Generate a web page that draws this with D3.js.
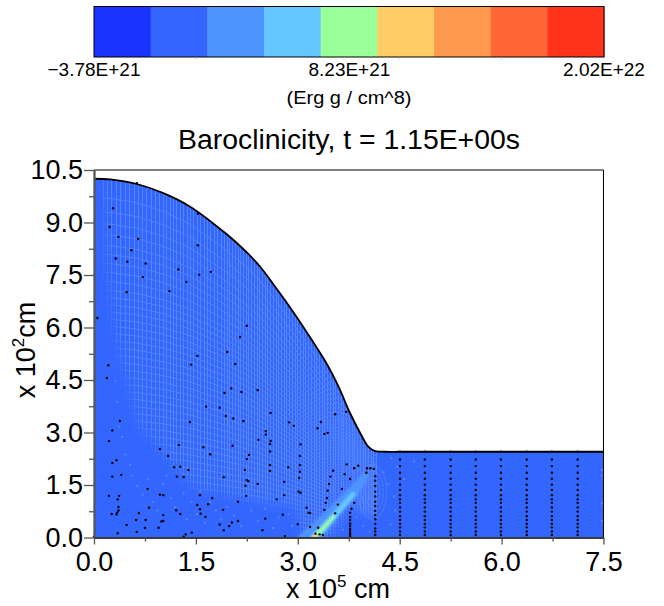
<!DOCTYPE html>
<html>
<head>
<meta charset="utf-8">
<script src="https://cdn.jsdelivr.net/npm/d3@7"></script>
<style>
  html, body { margin: 0; padding: 0; background: #fff; }
  text { font-family: "Liberation Sans", Arial, sans-serif; fill: #000; }
</style>
</head>
<body>
<svg id="chart" width="664" height="606"></svg>
<script>
// colour bar
const bandColors = ["#1a33ff", "#3366ff", "#4d94ff", "#66c6ff", "#99ff99", "#ffcc66", "#ff994d", "#ff6633", "#ff331a"];
const barTicks = [-3.78e21, 8.23e21, 2.02e22];
const barTickLabels = ["\u22123.78E+21", "8.23E+21", "2.02E+22"];
const barMinorTicks = [1.0e21, 1.06e22, 1.54e22];

// axis ticks
const xMajor = [0, 1.5, 3, 4.5, 6, 7.5];
const xMinor = [0.75, 2.25, 3.75, 5.25, 6.75];
const yMajor = [0, 1.5, 3, 4.5, 6, 7.5, 9, 10.5];
const yMinor = [0.75, 2.25, 3.75, 5.25, 6.75, 8.25, 9.75];

// free surface, [x, y]
const surface = [[0, 10.25], [0.24, 10.23], [0.63, 10.1], [1.02, 9.84], [1.41, 9.46], [1.95, 8.67], [2.22, 8.2], [2.44, 7.75],
  [2.71, 7.05], [2.93, 6.45], [3.18, 5.72], [3.43, 4.95], [3.6, 4.31], [3.77, 3.55], [3.92, 2.98], [4.04, 2.59],
  [4.14, 2.47], [4.28, 2.45], [4.5, 2.45], [5, 2.45], [6, 2.45], [7.5, 2.45]];

// lagrangian mesh, columns in x and levels as part of the local height
const meshColumns = [0.14, 0.2, 0.26, 0.33, 0.39, 0.46, 0.52, 0.59, 0.65, 0.71, 0.78, 0.84, 0.9, 0.96, 1.02, 1.07, 1.12, 1.17, 1.22,
  1.27, 1.32, 1.37, 1.42, 1.47, 1.52, 1.57, 1.62, 1.67, 1.72, 1.77, 1.82, 1.87, 1.92, 1.96, 2.0, 2.04, 2.08, 2.12, 2.16, 2.2, 2.24,
  2.28, 2.32, 2.36, 2.4, 2.44, 2.48, 2.52, 2.56, 2.6, 2.64, 2.68, 2.72, 2.76, 2.8, 2.84, 2.88, 2.92, 2.96, 3.0, 3.04, 3.08, 3.12,
  3.16, 3.2, 3.24, 3.28, 3.32, 3.36, 3.4, 3.44, 3.48, 3.52, 3.56, 3.6, 3.64, 3.68, 3.72, 3.76, 3.8, 3.84, 3.88, 3.92, 3.96, 4.0,
  4.04, 4.08, 4.12, 4.16];
const meshLevels = [0.947, 0.908, 0.875, 0.845, 0.815, 0.79, 0.765, 0.74, 0.715, 0.69, 0.67, 0.65, 0.63, 0.61, 0.59, 0.57, 0.55,
  0.53, 0.51, 0.49, 0.47, 0.45, 0.43, 0.41, 0.39, 0.37, 0.35, 0.33, 0.31, 0.29, 0.27, 0.25, 0.23, 0.21, 0.19, 0.17, 0.15, 0.13,
  0.11, 0.09, 0.07, 0.05, 0.03];

// flat zones where the field has no visible mesh
const flatLeft = [[-0.2, 10.5], [0.1, 10.5], [0.18, 8], [0.3, 6], [0.4, 5], [0.66, 3.16], [0.95, 2.5], [1.46, 1.4], [2.44, 1.0],
  [2.96, 0.85], [3.1, -0.2], [-0.2, -0.2]];
const flatRight = [[3.45, -0.2], [3.77, 0.82], [4.12, 0.56], [4.32, 0.9], [4.32, 2.7], [7.8, 2.7], [7.8, -0.2]];

// isolated light cells
const speckles = [[0.3, 4.5], [0.33, 3.9], [0.36, 3.2], [0.4, 2.9], [0.45, 2.4], [0.52, 2.1], [0.55, 1.8], [0.62, 1.5], [0.7, 1.25],
  [0.78, 1.7], [0.85, 1.05], [0.92, 0.8], [1.0, 1.55], [1.05, 1.8], [1.12, 1.15], [1.18, 0.9], [1.3, 1.3], [1.35, 0.55], [1.42, 1.05],
  [1.5, 0.7], [1.55, 1.35], [1.62, 0.45], [1.7, 1.05], [1.78, 0.8], [1.85, 0.55], [1.95, 0.9], [2.05, 0.65], [2.15, 0.35], [2.3, 0.8],
  [2.4, 0.5], [2.5, 0.85], [2.62, 0.3], [2.7, 0.6], [2.85, 0.7], [2.9, 0.35], [3.55, 0.45], [3.65, 0.25], [3.85, 0.6], [3.95, 0.35],
  [4.05, 0.2], [4.25, 1.9], [4.32, 1.55], [4.36, 2.3], [4.4, 1.2], [4.45, 2.05], [4.42, 0.8], [4.55, 1.7], [4.7, 2.2], [4.35, 0.4],
  [7.46, 1.95], [7.46, 1.8], [7.46, 1.0], [7.46, 0.5]];

// swirl behind the jet head, radii in x and y
const swirlCenter = [4.1, 1.3];
const swirlRadii = [[0.06, 0.25], [0.11, 0.42], [0.16, 0.6], [0.21, 0.78]];

// jet of high baroclinicity, outer band first
const jetColors = ["#4d94ff", "#66c6ff", "#99ff99", "#ffcc66"];
const jetBands = [
  [[2.98, 0], [3.33, 0.6], [3.72, 1.36], [3.97, 1.83], [4.06, 1.79], [3.87, 1.17], [3.62, 0.64], [3.38, 0]],
  [[3.18, 0], [3.38, 0.42], [3.57, 0.82], [3.8, 1.3], [3.87, 1.26], [3.67, 0.79], [3.47, 0.34], [3.32, 0]],
  [[3.19, 0], [3.33, 0.26], [3.52, 0.64], [3.56, 0.6], [3.38, 0.2], [3.28, 0]],
  [[3.19, 0], [3.25, 0.1], [3.3, 0.07], [3.25, 0]]
];

// tracer particles
const tracers = [[0.28, 9.41], [0.23, 8.87], [0.36, 8.59], [0.65, 8.53], [0.55, 8.21], [0.32, 7.97], [0.49, 7.88], [0.76, 7.83], [0.72, 7.44],
  [1.24, 7.66], [1.36, 7.3], [1.55, 7.51], [1.72, 7.59], [1.53, 8.35], [1.53, 9.25], [0.48, 7.01], [1.11, 7.04], [0.05, 6.27], [2.25, 6.05],
  [2.15, 5.73], [1.96, 5.3], [1.52, 5.19], [0.63, 10.12], [0.21, 4.92], [0.19, 4.56], [1.43, 4.94], [2.08, 4.96], [2.02, 4.26], [1.92, 4.13],
  [2.17, 4.16], [2.41, 4.21], [1.65, 3.74], [1.85, 3.71], [1.94, 3.47], [2.05, 3.4], [2.2, 3.33], [1.41, 3.3], [0.38, 3.33], [0.27, 3.06],
  [0.22, 2.76], [2.42, 2.79], [1.25, 2.64], [0.97, 2.53], [1.61, 2.58], [2.04, 2.62], [1.71, 2.38], [2.28, 2.36], [2.25, 2.24], [1.09, 2.33],
  [0.33, 2.21], [0.27, 2.13], [1.18, 2.01], [1.27, 2.02], [1.39, 1.93], [2.22, 1.93], [0.4, 1.79], [0.27, 1.74], [1.22, 1.74], [1.32, 1.73],
  [1.91, 1.72], [2.25, 1.64], [2.27, 1.61], [2.23, 1.48], [2.41, 1.53], [0.79, 1.39], [0.22, 1.19], [0.37, 1.19], [0.97, 1.22], [1.02, 1.21],
  [1.56, 1.21], [2.24, 1.19], [1.74, 1.13], [0.35, 1.09], [2.12, 1.02], [0.36, 0.87], [0.81, 0.85], [1.52, 0.93], [1.68, 0.95], [0.36, 0.77],
  [1.56, 0.81], [1.21, 0.78], [1.9, 0.79], [0.34, 0.71], [0.26, 0.67], [0.33, 0.66], [0.66, 0.7], [1.27, 0.67], [1.02, 0.64], [1.57, 0.68],
  [1.64, 0.59], [0.62, 0.5], [0.76, 0.5], [1.02, 0.47], [0.99, 0.46], [2.03, 0.43], [2.12, 0.47], [0.48, 0.36], [1.85, 0.37], [1.99, 0.33],
  [0.95, 0.28], [0.75, 0.27], [1.91, 0.21], [0.35, 0.12], [0.63, 0.16], [1.44, 0.14], [1.35, 0.09], [1.32, 0.02], [0, 0.02],
  [2.6, 3.56], [2.87, 3.29], [2.94, 3.19], [2.53, 3.04], [2.53, 2.94], [2.6, 2.76], [2.59, 2.67], [2.59, 2.46], [3.55, 3.52], [3.71, 3.59],
  [3.34, 3.3], [3.29, 3.12], [3.44, 2.99], [3.39, 2.96], [3.04, 2.66], [3.03, 2.33], [3.03, 2.07], [3.03, 1.88], [3.02, 1.7], [2.86, 2.01],
  [2.59, 2.07], [2.59, 1.9], [2.8, 1.59], [3.01, 1.31], [3.04, 1.28], [2.8, 1.21], [2.69, 1.09], [2.78, 0.65], [2.52, 0.54], [2.48, 0.21],
  [2.81, 0.04], [3.0, 0.38], [3.13, 0.85], [3.16, 0.71], [3.18, 0.7], [3.18, 0.3], [3.3, 0.28], [3.26, 0.11], [3.32, 0.09], [3.37, 0.07],
  [3.39, 0.79], [3.41, 0.99], [3.43, 1.13], [3.44, 1.34], [3.46, 1.53], [3.48, 1.74], [3.52, 1.91], [3.65, 1.39], [3.69, 1.81], [3.72, 2.09],
  [3.77, 1.67], [3.83, 1.98], [3.89, 2.05], [4.02, 1.98], [4.07, 1.98], [4.12, 1.96], [4.01, 1.85], [3.59, 0.94], [3.55, 0.69], [3.83, 0.99],
  [3.79, 0.82]];
const columnX = [4.505, 4.87, 5.25, 5.62, 5.99, 6.37, 6.74, 7.12];
const columnY = [2.45, 2.23, 2.04, 1.85, 1.68, 1.51, 1.36, 1.21, 1.09, 0.99, 0.86, 0.74, 0.61, 0.5, 0.39, 0.29, 0.17, 0.07];
const nearColumnX = 4.14;
const nearColumnY = [1.75, 1.62, 1.47, 1.31, 1.17, 1.02, 0.9, 0.76, 0.64, 0.52, 0.39, 0.26, 0.17, 0.07];
const innerColumnX = 3.77;
const innerColumnY = [0.71, 0.59, 0.5, 0.4, 0.33, 0.25, 0.19, 0.12, 0.07, 0.03];

const baseColor = "#3366ff";
const meshColor = "#5585ff";

const svg = d3.select("#chart");
const defs = svg.append("defs");
defs.append("filter").attr("id", "softEdge").attr("x", "-20%").attr("y", "-20%").attr("width", "140%").attr("height", "140%")
  .append("feGaussianBlur").attr("stdDeviation", 4);
defs.append("filter").attr("id", "softJet").attr("x", "-20%").attr("y", "-20%").attr("width", "140%").attr("height", "140%")
  .append("feGaussianBlur").attr("stdDeviation", 1);

// colour bar
const barLeft = 94, barRight = 604, barTop = 6.5, barBottom = 57;
const bandScale = d3.scaleBand().domain(d3.range(bandColors.length)).range([barLeft, barRight]);
const barScale = d3.scaleLinear().domain([barTicks[0], barTicks[2]]).range([barLeft, barRight]);

svg.append("g").selectAll("rect").data(bandColors).join("rect")
  .attr("x", (d, i) => bandScale(i))
  .attr("y", barTop)
  .attr("width", bandScale.bandwidth() + 0.5)
  .attr("height", barBottom - barTop)
  .attr("fill", d => d);
svg.append("rect")
  .attr("x", barLeft).attr("y", barTop)
  .attr("width", barRight - barLeft).attr("height", barBottom - barTop)
  .attr("fill", "none").attr("stroke", "#000").attr("stroke-width", 1);
svg.append("g").selectAll("line").data(barMinorTicks).join("line")
  .attr("x1", d => barScale(d)).attr("x2", d => barScale(d))
  .attr("y1", barBottom).attr("y2", barBottom + 2)
  .attr("stroke", "#aaa");
svg.append("g").selectAll("text").data(barTicks).join("text")
  .attr("x", d => barScale(d))
  .attr("y", 76)
  .attr("text-anchor", "middle")
  .attr("font-size", 19)
  .text((d, i) => barTickLabels[i]);
svg.append("text")
  .attr("x", 349).attr("y", 104)
  .attr("text-anchor", "middle")
  .attr("font-size", 18)
  .attr("textLength", 125).attr("lengthAdjust", "spacingAndGlyphs")
  .text("(Erg g / cm^8)");
svg.append("text")
  .attr("x", 349).attr("y", 149)
  .attr("text-anchor", "middle")
  .attr("font-size", 27)
  .attr("textLength", 342).attr("lengthAdjust", "spacingAndGlyphs")
  .text("Baroclinicity, t = 1.15E+00s");

// plot
const plotLeft = 94, plotRight = 603.5, plotTop = 170, plotBottom = 537.5;
const x = d3.scaleLinear().domain([0, 7.5]).range([plotLeft, plotRight]);
const y = d3.scaleLinear().domain([0, 10.5]).range([plotBottom, plotTop]);
const heightAt = d3.scaleLinear().domain(surface.map(d => d[0])).range(surface.map(d => d[1]));

const smooth = d3.line().x(d => x(d[0])).y(d => y(d[1])).curve(d3.curveCatmullRom.alpha(0.5));
const poly = d3.line().x(d => x(d[0])).y(d => y(d[1])).curve(d3.curveLinearClosed);
const field = d3.area().x(d => x(d[0])).y0(y(0)).y1(d => y(d[1])).curve(d3.curveCatmullRom.alpha(0.5));

svg.append("clipPath").attr("id", "fieldClip").append("path").attr("d", field(surface));
const fieldG = svg.append("g").attr("clip-path", "url(#fieldClip)");

fieldG.append("rect")
  .attr("x", plotLeft).attr("y", plotTop)
  .attr("width", plotRight - plotLeft).attr("height", plotBottom - plotTop)
  .attr("fill", baseColor);

fieldG.append("g").selectAll("line").data(meshColumns).join("line")
  .attr("x1", d => x(d)).attr("x2", d => x(d))
  .attr("y1", y(0)).attr("y2", d => y(heightAt(d)))
  .attr("stroke", meshColor).attr("shape-rendering", "crispEdges");

const levelLine = d3.line().x(d => x(d[0])).y(d => y(d[1]));
fieldG.append("g").selectAll("path").data(meshLevels).join("path")
  .attr("d", l => levelLine(meshColumns.map(c => [c, l * heightAt(c)])))
  .attr("fill", "none").attr("stroke", meshColor).attr("stroke-width", 0.9);

fieldG.append("g").attr("filter", "url(#softEdge)").selectAll("path").data([flatLeft, flatRight]).join("path")
  .attr("d", poly).attr("fill", baseColor);

fieldG.append("g").selectAll("rect").data(speckles).join("rect")
  .attr("x", d => x(d[0])).attr("y", d => y(d[1]))
  .attr("width", 2).attr("height", 2)
  .attr("fill", meshColor);

fieldG.append("g").selectAll("ellipse").data(swirlRadii).join("ellipse")
  .attr("cx", x(swirlCenter[0])).attr("cy", y(swirlCenter[1]))
  .attr("rx", d => x(d[0]) - x(0)).attr("ry", d => y(0) - y(d[1]))
  .attr("fill", "none").attr("stroke", "#6f9bff").attr("stroke-opacity", 0.4);

fieldG.append("g").attr("filter", "url(#softJet)").selectAll("path").data(jetBands).join("path")
  .attr("d", poly)
  .attr("fill", (d, i) => jetColors[i]);

// tracers
const dots = tracers
  .concat(columnX.flatMap(cx => columnY.map(cy => [cx, cy])))
  .concat(nearColumnY.map(cy => [nearColumnX, cy]))
  .concat(innerColumnY.map(cy => [innerColumnX, cy]));
svg.append("g").selectAll("circle").data(dots).join("circle")
  .attr("cx", d => x(d[0])).attr("cy", d => y(d[1]))
  .attr("r", 1.2).attr("fill", "#000");

// surface outline
svg.append("path").attr("d", smooth(surface))
  .attr("fill", "none").attr("stroke", "#000").attr("stroke-width", 1.8);

// frame, top and right are thin, left and bottom heavier
svg.append("line").attr("x1", plotLeft).attr("x2", plotRight).attr("y1", plotTop).attr("y2", plotTop).attr("stroke", "#000");
svg.append("line").attr("x1", plotRight).attr("x2", plotRight).attr("y1", plotTop).attr("y2", plotBottom).attr("stroke", "#000");

const xAxis = d3.axisBottom(x).tickValues(xMajor).tickFormat(d3.format(".1f")).tickSize(7).tickPadding(7).tickSizeOuter(0);
const xMinorAxis = d3.axisBottom(x).tickValues(xMinor).tickFormat("").tickSize(4).tickSizeOuter(0);
const yAxis = d3.axisLeft(y).tickValues(yMajor).tickFormat(d3.format(".1f")).tickSize(10).tickPadding(1).tickSizeOuter(0);
const yMinorAxis = d3.axisLeft(y).tickValues(yMinor).tickFormat("").tickSize(5).tickSizeOuter(0);

[xAxis, xMinorAxis].forEach(a => {
  const g = svg.append("g").attr("transform", `translate(0,${plotBottom})`).call(a);
  g.selectAll("text").attr("font-size", 27).attr("font-family", "Liberation Sans").attr("fill", "#000");
  g.selectAll("line").attr("stroke", "#555").attr("stroke-width", 1.3);
  g.select(".domain").attr("stroke", "#333").attr("stroke-width", 1.6);
});
[yAxis, yMinorAxis].forEach(a => {
  const g = svg.append("g").attr("transform", `translate(${plotLeft},0)`).call(a);
  g.selectAll("text").attr("font-size", 27).attr("font-family", "Liberation Sans").attr("fill", "#000");
  g.selectAll("line").attr("stroke", "#555").attr("stroke-width", 1.3);
  g.select(".domain").attr("stroke", "#555").attr("stroke-width", 1.8);
});

// axis titles
const xTitle = svg.append("text").attr("x", 338).attr("y", 598).attr("text-anchor", "middle").attr("font-size", 27);
xTitle.append("tspan").text("x 10");
xTitle.append("tspan").attr("font-size", 17).attr("dy", -11).text("5");
xTitle.append("tspan").attr("dy", 11).text(" cm");

const yTitle = svg.append("text").attr("transform", "translate(35,350) rotate(-90)").attr("text-anchor", "middle").attr("font-size", 27);
yTitle.append("tspan").text("x 10");
yTitle.append("tspan").attr("font-size", 17).attr("dy", -11).text("2");
yTitle.append("tspan").attr("dy", 11).text("cm");
</script>
</body>
</html>
